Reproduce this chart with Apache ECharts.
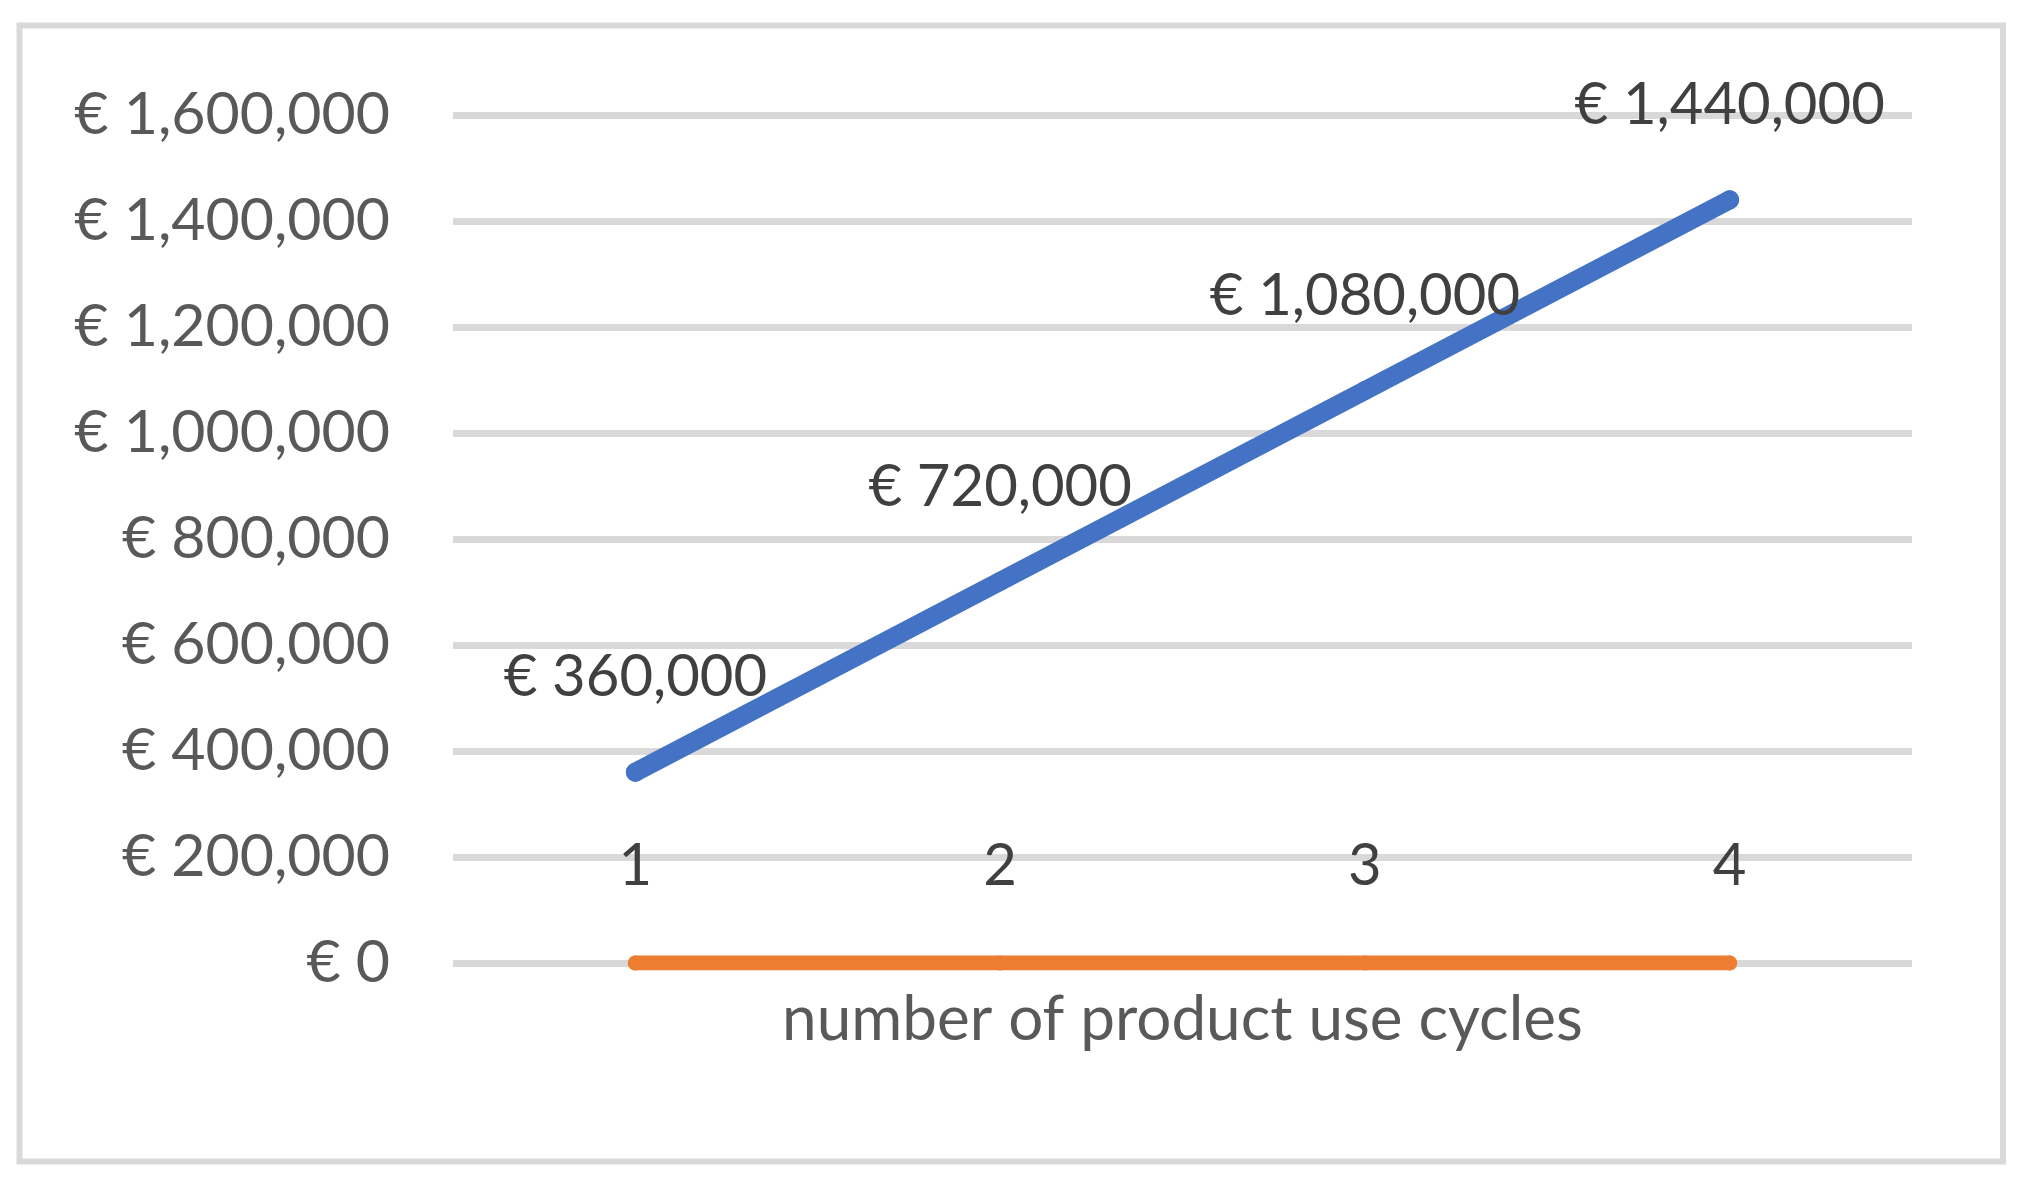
<!DOCTYPE html>
<html>
<head>
<meta charset="utf-8">
<script src="https://cdn.jsdelivr.net/npm/echarts@6/dist/echarts.min.js"></script>
<style>
html,body{margin:0;padding:0;background:#fff;}
#chart{width:2033px;height:1194px;}
</style>
</head>
<body>
<div id="chart"></div>
<script>
const categories = ['1', '2', '3', '4'];
const costValues = [360000, 720000, 1080000, 1440000];
const baseValues = [0, 0, 0, 0];
const yTicks = { min: 0, max: 1600000, interval: 200000 };
const xAxisName = 'number of product use cycles';

const FONT = 'Lato';
const fmt = v => '€ ' + Number(v).toLocaleString('en-US');

const chart = echarts.init(document.getElementById('chart'), null, { renderer: 'canvas' });
chart.setOption({
  backgroundColor: '#ffffff',
  animation: false,
  graphic: [{
    type: 'rect',
    shape: { x: 19.5, y: 25.5, width: 1983.5, height: 1136 },
    style: { fill: 'none', stroke: '#d9d9d9', lineWidth: 6 },
    z: -1
  }],
  grid: { left: 453, right: 121, top: 115, bottom: 231, containLabel: false },
  xAxis: {
    type: 'category',
    data: categories,
    boundaryGap: true,
    axisLine: { show: false },
    axisTick: { show: false },
    splitLine: { show: false },
    axisLabel: {
      margin: -97,
      verticalAlign: 'middle',
      fontSize: 58,
      fontFamily: FONT,
      color: '#404040'
    },
    name: xAxisName,
    nameLocation: 'middle',
    nameGap: 26,
    nameTextStyle: { fontSize: 62, fontFamily: FONT, color: '#595959', verticalAlign: 'top' }
  },
  yAxis: {
    type: 'value',
    min: yTicks.min,
    max: yTicks.max,
    interval: yTicks.interval,
    axisLine: { show: false },
    axisTick: { show: false },
    splitLine: { show: true, lineStyle: { color: '#d9d9d9', width: 7 } },
    axisLabel: {
      margin: 63,
      fontSize: 59,
      fontFamily: FONT,
      color: '#595959',
      formatter: fmt
    }
  },
  series: [
    {
      type: 'line',
      data: baseValues,
      symbol: 'circle',
      symbolSize: 15,
      showSymbol: true,
      itemStyle: { color: '#ED7D31' },
      lineStyle: { color: '#ED7D31', width: 15, cap: 'round', join: 'round' },
      label: { show: false },
      z: 3
    },
    {
      type: 'line',
      data: costValues,
      symbol: 'circle',
      symbolSize: 19,
      showSymbol: true,
      itemStyle: { color: '#4472C4' },
      lineStyle: { color: '#4472C4', width: 19, cap: 'round', join: 'round' },
      label: {
        show: true,
        position: 'top',
        distance: 56,
        fontSize: 58,
        fontFamily: FONT,
        color: '#404040',
        formatter: p => fmt(p.value)
      },
      z: 4
    }
  ]
});
</script>
</body>
</html>
